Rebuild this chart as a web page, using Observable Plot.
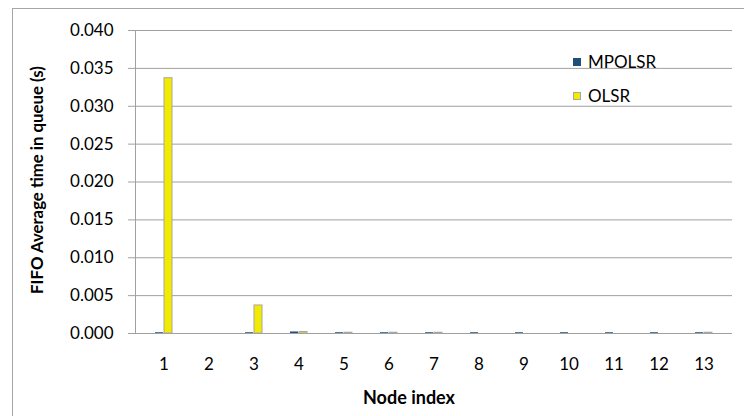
<!DOCTYPE html>
<html>
<head>
<meta charset="utf-8">
<script src="https://cdn.jsdelivr.net/npm/d3@7"></script>
<script src="https://cdn.jsdelivr.net/npm/@observablehq/plot@0.6"></script>
<style>
  html, body { margin: 0; padding: 0; background: #fff; overflow: hidden; }
  #wrap { position: relative; width: 744px; height: 416px; font-family: Lato, "Open Sans", sans-serif; }
  #border { position: absolute; left: 12px; top: 8px; width: 900px; height: 600px; border: 1px solid #a6a6a6; box-sizing: border-box; }
  #chart { position: absolute; left: 0; top: 0; }
  .ylab { position: absolute; left: 36px; top: 180px; transform: translate(-50%, -50%) rotate(-90deg); white-space: nowrap; font-weight: bold; font-size: 16.8px; color: #000; }
  .xlab { position: absolute; left: 409px; top: 397px; transform: translate(-50%, -50%); white-space: nowrap; font-weight: bold; font-size: 18px; color: #000; }
  .leg { position: absolute; left: 573px; font-size: 17px; color: #000; display: flex; align-items: center; white-space: nowrap; }
  .sw { width: 8px; height: 8px; margin-right: 7px; box-sizing: border-box; }
</style>
</head>
<body>
<div id="wrap">
  <div id="border"></div>
  <div id="chart"></div>
  <div class="ylab">FIFO Average time in queue (s)</div>
  <div class="xlab">Node index</div>
  <div class="leg" style="top:51px"><div class="sw" style="background:#1f4e79"></div>MPOLSR</div>
  <div class="leg" style="top:85px"><div class="sw" style="background:#f2ea00;border:1px solid #a6a6a6"></div>OLSR</div>
</div>
<script>
const nodes = ["1","2","3","4","5","6","7","8","9","10","11","12","13"];
const mpolsr = [0.0001, 0, 0.0001, 0.0002, 0.0001, 0.0001, 0.0001, 0.0001, 0.0001, 0.0001, 0.0001, 0.0001, 0.0001];
const olsr = [0.0337, 0, 0.0037, 0.0002, 0.0001, 0.0001, 0.0001, 0, 0, 0, 0, 0, 0.0001];
const yTicks = [0, 0.005, 0.010, 0.015, 0.020, 0.025, 0.030, 0.035, 0.040];

const mData = nodes.map((n, i) => ({node: n, value: mpolsr[i]}));
const oData = nodes.map((n, i) => ({node: n, value: olsr[i]}));

const grid = "#a0a0a0";
const chart = Plot.plot({
  width: 744,
  height: 416,
  marginLeft: 135,
  marginRight: 12,
  marginTop: 30,
  marginBottom: 83,
  style: {fontFamily: "Lato, 'Open Sans', sans-serif", fontSize: "17px", color: "#000", background: "transparent"},
  x: {domain: nodes, padding: 0, axis: null},
  y: {domain: [0, 0.04], axis: null},
  marks: [
    Plot.ruleY(yTicks, {stroke: grid, strokeWidth: 1}),
    Plot.axisY({ticks: yTicks, tickFormat: d3.format(".3f"), tickSize: 7, tickPadding: 15, stroke: grid, fill: "#000", label: null}),
    Plot.axisX({tickSize: 0, tickPadding: 24, fill: "#000", label: null}),
    Plot.frame({anchor: "left", stroke: grid}),
    Plot.barY(mData, {x: "node", y: "value", fill: "#1f4e79", dx: -4.5, insetLeft: 18.5, insetRight: 18.5}),
    Plot.barY(oData, {x: "node", y: "value", fill: "#f2ea00", stroke: "#a6a6a6", strokeWidth: 1, dx: 4.5, insetLeft: 18.5, insetRight: 18.5})
  ]
});
document.getElementById("chart").appendChild(chart);
</script>
</body>
</html>
